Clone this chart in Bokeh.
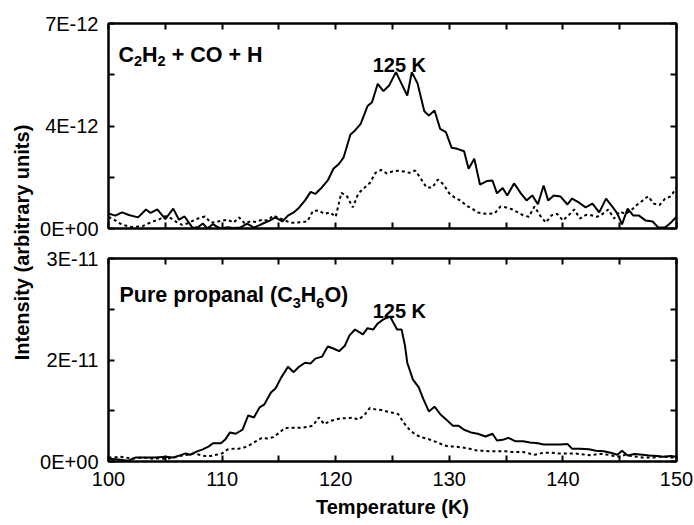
import math
from bokeh.plotting import figure
from bokeh.models import LinearAxis, FixedTicker, Range1d, Label
from bokeh.layouts import row, column
from bokeh.embed import file_html
from bokeh.resources import INLINE
from bokeh.core.properties import value

FONT = "Liberation Sans"

# ---------------- data (intensities in units of 1E-12 for the top panel, 1E-11 for the bottom panel)
top_solid_T = [100.0, 100.6, 101.2, 101.8, 102.6, 103.3, 103.7, 104.3, 105.0, 105.7,
               106.2, 106.7, 107.4, 107.9, 108.3, 108.7, 109.2, 109.6, 109.9, 110.5,
               111.0, 111.6, 112.2, 112.8, 113.2, 113.6, 114.1, 114.7, 115.3, 115.8,
               116.3, 116.7, 117.3, 117.8, 118.2, 118.8, 119.3, 119.8, 120.3, 120.7,
               121.3, 121.7, 122.2, 122.8, 123.2, 123.7, 124.2, 124.7, 125.3, 125.8,
               126.3, 126.7, 127.2, 127.8, 128.2, 128.7, 129.2, 129.7, 130.2, 130.7,
               131.3, 131.7, 132.2, 132.7, 133.3, 133.8, 134.2, 134.7, 135.1, 135.7,
               136.3, 136.8, 137.3, 137.8, 138.3, 138.7, 139.2, 139.8, 140.4, 140.8,
               141.4, 142.0, 142.6, 143.2, 143.8, 144.4, 144.8, 145.2, 145.7, 146.2,
               146.7, 147.3, 147.9, 148.4, 149.0, 149.5, 150.0]
top_solid = [0.51, 0.44, 0.55, 0.46, 0.38, 0.65, 0.53, 0.65, 0.32, 0.68,
             0.30, 0.41, 0.02, 0.05, 0.17, 0.00, 0.15, 0.05, 0.00, 0.04,
             0.02, 0.03, 0.17, 0.03, 0.10, 0.17, 0.25, 0.38, 0.24, 0.44,
             0.55, 0.68, 0.96, 1.25, 1.18, 1.41, 1.64, 2.04, 2.21, 2.43,
             3.21, 3.35, 3.57, 4.18, 4.31, 4.94, 4.69, 4.88, 5.34, 4.94,
             4.54, 5.34, 4.96, 4.00, 3.86, 4.03, 3.40, 3.29, 2.76, 2.72,
             2.64, 2.04, 2.38, 1.50, 1.62, 1.64, 1.20, 1.38, 1.13, 1.54,
             1.20, 0.96, 1.13, 0.83, 1.47, 0.96, 1.13, 1.09, 0.82, 1.02,
             0.89, 0.72, 0.85, 0.55, 1.02, 0.72, 0.51, 0.14, 0.68, 0.44,
             0.44, 0.27, 0.24, 0.03, 0.03, 0.20, 0.40]

grid_T = [100.0, 100.5, 101.0, 101.5, 102.0, 102.5, 103.0, 103.5, 104.0, 104.5,
          105.0, 105.5, 106.0, 106.5, 107.0, 107.5, 108.0, 108.5, 109.0, 109.5,
          110.0, 110.5, 111.0, 111.5, 112.0, 112.5, 113.0, 113.5, 114.0, 114.5,
          115.0, 115.5, 116.0, 116.5, 117.0, 117.5, 118.0, 118.5, 119.0, 119.5,
          120.0, 120.5, 121.0, 121.5, 122.0, 122.5, 123.0, 123.5, 124.0, 124.5,
          125.0, 125.5, 126.0, 126.5, 127.0, 127.5, 128.0, 128.5, 129.0, 129.5,
          130.0, 130.5, 131.0, 131.5, 132.0, 132.5, 133.0, 133.5, 134.0, 134.5,
          135.0, 135.5, 136.0, 136.5, 137.0, 137.5, 138.0, 138.5, 139.0, 139.5,
          140.0, 140.5, 141.0, 141.5, 142.0, 142.5, 143.0, 143.5, 144.0, 144.5,
          145.0, 145.5, 146.0, 146.5, 147.0, 147.5, 148.0, 148.5, 149.0, 149.5,
          150.0]
top_dotted = [0.40, 0.30, 0.17, 0.10, 0.05, 0.06, 0.08, 0.17, 0.25, 0.32,
              0.42, 0.35, 0.22, 0.12, 0.18, 0.28, 0.36, 0.41, 0.20, 0.22,
              0.27, 0.30, 0.20, 0.38, 0.17, 0.25, 0.22, 0.30, 0.27, 0.44,
              0.36, 0.28, 0.20, 0.20, 0.22, 0.24, 0.60, 0.62, 0.50, 0.55,
              0.40, 1.22, 1.10, 0.72, 1.20, 1.38, 1.55, 1.90, 2.00, 1.88,
              1.95, 1.97, 1.95, 1.90, 1.98, 1.70, 1.40, 1.40, 1.67, 1.50,
              1.20, 1.05, 0.95, 0.78, 0.68, 0.55, 0.51, 0.50, 0.52, 0.75,
              0.72, 0.66, 0.56, 0.45, 0.40, 0.75, 0.44, 0.20, 0.45, 0.50,
              0.27, 0.45, 0.65, 0.34, 0.46, 0.45, 0.40, 0.50, 0.65, 0.34,
              0.58, 0.50, 0.62, 0.80, 0.95, 1.10, 0.85, 0.80, 1.02, 1.10,
              1.40]

bottom_solid_T = [100.0, 100.9, 101.7, 102.4, 103.3, 104.1, 105.0, 105.7, 106.3, 106.8,
                  107.2, 107.8, 108.3, 108.8, 109.2, 109.9, 110.3, 110.7, 111.2, 111.8,
                  112.3, 112.8, 113.3, 113.7, 114.3, 114.7, 115.2, 115.8, 116.3, 116.7,
                  117.3, 117.8, 118.2, 118.8, 119.3, 119.8, 120.3, 120.8, 121.2, 121.7,
                  122.4, 122.8, 123.3, 123.7, 124.2, 124.8, 125.4, 125.8, 126.1, 126.3,
                  126.8, 127.3, 127.7, 128.2, 128.7, 129.2, 129.8, 130.3, 130.8, 131.3,
                  131.9, 132.5, 133.2, 133.8, 134.2, 134.7, 135.2, 135.8, 136.5, 137.1,
                  137.8, 138.3, 139.1, 139.8, 140.4, 140.8, 141.5, 142.3, 142.9, 143.6,
                  144.2, 144.8, 145.2, 145.7, 146.3, 147.0, 147.6, 148.3, 148.8, 149.5,
                  150.0]
bottom_solid = [0.04, 0.03, 0.01, 0.06, 0.06, 0.06, 0.07, 0.06, 0.09, 0.12,
                0.10, 0.15, 0.18, 0.22, 0.27, 0.27, 0.33, 0.43, 0.41, 0.47,
                0.68, 0.65, 0.80, 0.84, 1.02, 1.08, 1.24, 1.40, 1.32, 1.39,
                1.46, 1.45, 1.52, 1.55, 1.70, 1.67, 1.63, 1.71, 1.86, 1.95,
                1.88, 1.97, 1.95, 2.04, 2.10, 2.14, 1.95, 1.95, 1.71, 1.46,
                1.21, 1.10, 0.93, 0.74, 0.81, 0.70, 0.61, 0.53, 0.53, 0.47,
                0.43, 0.41, 0.37, 0.41, 0.31, 0.32, 0.35, 0.30, 0.30, 0.28,
                0.27, 0.25, 0.25, 0.25, 0.26, 0.19, 0.19, 0.18, 0.16, 0.15,
                0.13, 0.10, 0.16, 0.09, 0.11, 0.10, 0.09, 0.08, 0.07, 0.08,
                0.07]
bottom_dotted = [0.06, 0.06, 0.07, 0.06, 0.04, 0.05, 0.06, 0.05, 0.04, 0.05,
                 0.04, 0.05, 0.07, 0.09, 0.10, 0.12, 0.10, 0.08, 0.08, 0.10,
                 0.12, 0.18, 0.19, 0.19, 0.21, 0.25, 0.30, 0.35, 0.34, 0.36,
                 0.42, 0.49, 0.50, 0.50, 0.50, 0.51, 0.53, 0.65, 0.55, 0.60,
                 0.62, 0.64, 0.64, 0.65, 0.62, 0.68, 0.79, 0.77, 0.76, 0.74,
                 0.72, 0.70, 0.57, 0.47, 0.40, 0.36, 0.34, 0.31, 0.28, 0.24,
                 0.22, 0.22, 0.21, 0.20, 0.18, 0.16, 0.16, 0.15, 0.15, 0.15,
                 0.15, 0.14, 0.14, 0.14, 0.12, 0.10, 0.12, 0.13, 0.13, 0.12,
                 0.12, 0.12, 0.12, 0.11, 0.10, 0.09, 0.11, 0.11, 0.10, 0.08,
                 0.07, 0.10, 0.08, 0.07, 0.06, 0.06, 0.06, 0.07, 0.07, 0.06,
                 0.06]

x_ticks = [100, 110, 120, 130, 140, 150]
x_minor_ticks = [105, 115, 125, 135, 145]
top_y_ticks = [0, 3.5, 7]
top_y_minor = [1.75, 5.25]
top_y_labels = ["0E+00", "4E-12", "7E-12"]
bottom_y_ticks = [0, 1.5, 3]
bottom_y_minor = [0.75, 2.25]
bottom_y_labels = ["0E+00", "2E-11", "3E-11"]
peak_label = "125 K"
peak_T = 125.6

TITLE_W = 36
FRAME_W = 568
LEFT_B = 108 - TITLE_W
RIGHT_B = 18
TOP_H = 243          # top figure: 23 + 205 + 15
BOT_B = 64
TOTAL_H = TOP_H + 15 + 203 + BOT_B


def style_axis(ax, ticker, labels=None, standoff=10):
    ax.ticker = ticker
    ax.major_tick_in = 6
    ax.major_tick_out = 0
    ax.minor_tick_in = 6
    ax.minor_tick_out = 0
    ax.axis_line_width = 2
    ax.major_tick_line_width = 2
    ax.minor_tick_line_width = 2
    ax.axis_line_color = "black"
    ax.major_tick_line_color = "black"
    ax.minor_tick_line_color = "black"
    if labels is False:
        ax.major_label_text_color = None
        ax.major_label_standoff = 0
    else:
        if labels:
            ax.major_label_overrides = labels
        ax.major_label_text_font = FONT
        ax.major_label_text_font_size = "20px"
        ax.major_label_text_color = "black"
        ax.major_label_standoff = standoff


def make_panel(y_end, y_ticks, y_minor, y_labels, frame_h, top_b, bottom_b, show_x):
    p = figure(frame_width=FRAME_W, frame_height=frame_h,
               x_range=Range1d(100, 150), y_range=Range1d(0, y_end),
               x_axis_type=None, y_axis_type=None,
               toolbar_location=None, output_backend="svg",
               min_border_left=LEFT_B, min_border_right=RIGHT_B,
               min_border_top=top_b, min_border_bottom=bottom_b,
               background_fill_color="white", border_fill_color="white",
               outline_line_color="black", outline_line_width=2)
    xt = FixedTicker(ticks=x_ticks, minor_ticks=x_minor_ticks)
    yt = FixedTicker(ticks=y_ticks, minor_ticks=y_minor)
    overrides = {t: s for t, s in zip(y_ticks, y_labels)}

    left = LinearAxis()
    style_axis(left, yt, overrides, standoff=10)
    p.add_layout(left, "left")

    right = LinearAxis()
    style_axis(right, yt, False)
    p.add_layout(right, "right")

    above = LinearAxis()
    style_axis(above, xt, False)
    p.add_layout(above, "above")

    below = LinearAxis()
    if show_x:
        style_axis(below, xt, None, standoff=10)
        below.axis_label = "Temperature (K)"
        below.axis_label_text_font = FONT
        below.axis_label_text_font_size = "20px"
        below.axis_label_text_font_style = "bold"
        below.axis_label_text_color = "black"
        below.axis_label_standoff = 7
    else:
        style_axis(below, xt, False)
    p.add_layout(below, "below")
    return p


def add_text(p, x, y, text, size, style="bold", units="screen", align="left"):
    p.add_layout(Label(x=x, y=y, x_units=units, y_units=units, text=text,
                       text_font=FONT, text_font_size=size, text_font_style=style,
                       text_color="black", text_align=align,
                       text_baseline="alphabetic"))


MS, SS = "21.5px", "14.5px"

# ---------------- top panel
p_top = make_panel(7, top_y_ticks, top_y_minor, top_y_labels, 205, 23, 15, False)
p_top.line(grid_T, top_dotted, line_color="black", line_width=2, line_dash="3 3")
p_top.line(top_solid_T, top_solid, line_color="black", line_width=2)
add_text(p_top, peak_T, 5.57, peak_label, "20px", units="data", align="center")
add_text(p_top, 10, 174, "C", MS)
add_text(p_top, 25.5, 168, "2", SS)
add_text(p_top, 33.6, 174, "H", MS)
add_text(p_top, 49.1, 168, "2", SS)
add_text(p_top, 63.2, 174, "+ CO + H", MS)

# ---------------- bottom panel
p_bot = make_panel(3, bottom_y_ticks, bottom_y_minor, bottom_y_labels, 203, 15, BOT_B, True)
p_bot.line(grid_T, bottom_dotted, line_color="black", line_width=2, line_dash="3 3")
p_bot.line(bottom_solid_T, bottom_solid, line_color="black", line_width=2)
add_text(p_bot, peak_T, 2.22, peak_label, "20px", units="data", align="center")
add_text(p_bot, 11, 167, "Pure propanal (C", MS)
add_text(p_bot, 184.2, 159, "3", SS)
add_text(p_bot, 192.3, 167, "H", MS)
add_text(p_bot, 207.8, 159, "6", SS)
add_text(p_bot, 215.9, 167, "O)", MS)

# ---------------- shared y-axis title column
p_title = figure(frame_width=TITLE_W, frame_height=TOTAL_H, min_border=0,
                 x_range=Range1d(0, TITLE_W), y_range=Range1d(0, TOTAL_H),
                 x_axis_type=None, y_axis_type=None,
                 toolbar_location=None, output_backend="svg",
                 outline_line_color=None, background_fill_color="white",
                 border_fill_color="white")
p_title.text(x=[21], y=[TOTAL_H - 242], text=["Intensity (arbitrary units)"],
             angle=math.pi / 2, text_align="center", text_baseline="middle",
             text_font=value(FONT), text_font_size="20px",
             text_font_style="bold", text_color="black")

layout = row(p_title, column(p_top, p_bot))
open("out.html", "w").write(file_html(layout, INLINE))
